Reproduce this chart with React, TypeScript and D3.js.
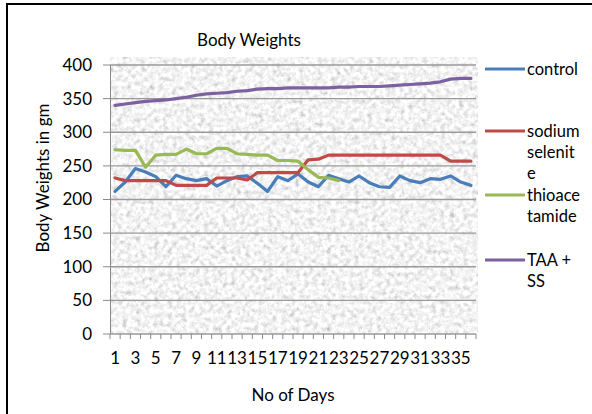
import React from 'react';
import {scaleBand,scaleLinear,line,range} from 'd3';

const days=range(1,37);
const control=[212,226,246,241,234,219,236,231,228,231,220,228,234,235,224,212,234,228,238,226,219,236,231,226,235,225,219,218,235,228,225,231,230,235,226,221];
const sodium=[232,228,228,228,228,228,221,221,221,221,232,232,232,229,240,240,240,240,240,259,260,266,266,266,266,266,266,266,266,266,266,266,266,257,257,257];
const thioacetamide=[274,273,273,248,266,267,267,275,268,268,276,276,268,267,266,266,258,258,257,244,233,232,228];
const taaSS=[340,342,344,346,347,348,350,352,355,357,358,359,361,362,364,365,365,366,366,366,366,366,367,367,368,368,368,369,370,371,372,373,375,379,380,380];
const yTicks=[0,50,100,150,200,250,300,350,400];

const series=[
  {name:['control'],values:control,color:'#4A7EBB'},
  {name:['sodium','selenit','e'],values:sodium,color:'#BE4B48'},
  {name:['thioace','tamide'],values:thioacetamide,color:'#98B954'},
  {name:['TAA +','SS'],values:taaSS,color:'#7D60A0'},
];
const legendY=[69,131,195,260];

const font="Lato, 'Open Sans', sans-serif";

export default function App(){
  const width=592,height=414;
  const x=scaleBand<number>().domain(days).range([110,476]).padding(0);
  const y=scaleLinear().domain([0,400]).range([334,65]);
  const bw=x.bandwidth();
  const cx=(i:number)=>(x(days[i]) as number)+bw/2;
  const path=line<number>().x((d,i)=>cx(i)).y(d=>y(d));
  const tickXs=days.map(d=>x(d) as number).concat([476]);

  return (
    <div style={{position:'fixed',left:0,top:0}}>
      <svg width={width} height={height} style={{display:'block',background:'#fff'}}>
        <defs>
          <filter id="granite" x="0" y="0" width="100%" height="100%">
            <feTurbulence type="fractalNoise" baseFrequency="0.22" numOctaves="4" seed="7" result="n"/>
            <feColorMatrix in="n" type="matrix" values="0.45 0.45 0.45 0 0.22  0.45 0.45 0.45 0 0.22  0.45 0.45 0.45 0 0.22  0 0 0 0 1"/>
          </filter>
        </defs>
        <text x={19} y={-3} fontFamily={font} fontSize={17}>g</text>
        <rect x={7} y={4} width={620} height={440} fill="none" stroke="#000" strokeWidth={2}/>
        <rect x={110} y={57} width={368} height={277} filter="url(#granite)"/>
        <text x={249} y={46} textAnchor="middle" fontFamily={font} fontSize={17} fill="#000">Body Weights</text>
        {yTicks.map(t=>(
          <g key={t}>
            <line x1={110} x2={476} y1={y(t)} y2={y(t)} stroke="#9a9a9a" strokeWidth={1.3}/>
            <line x1={103} x2={110} y1={y(t)} y2={y(t)} stroke="#8a8a8a"/>
            <text x={92} y={y(t)} dy="0.35em" textAnchor="end" fontFamily={font} fontSize={17}>{t}</text>
          </g>
        ))}
        <line x1={110.5} x2={110.5} y1={65} y2={334} stroke="#8a8a8a"/>
        {tickXs.map((t,i)=>(
          <line key={i} x1={t} x2={t} y1={334} y2={339} stroke="#8a8a8a"/>
        ))}
        {days.filter(d=>d%2===1).map(d=>(
          <text key={d} x={(x(d) as number)+bw/2} y={364} textAnchor="middle" fontFamily={font} fontSize={17}>{d}</text>
        ))}
        <text x={293} y={401} textAnchor="middle" fontFamily={font} fontSize={17}>No of Days</text>
        <text transform="translate(49,178) rotate(-90)" textAnchor="middle" fontFamily={font} fontSize={17}>Body Weights in gm</text>
        {series.map(s=>(
          <path key={s.color} d={path(s.values) as string} fill="none" stroke={s.color} strokeWidth={3.2} strokeLinejoin="round" strokeLinecap="round"/>
        ))}
        {series.map((s,i)=>(
          <g key={'l'+i}>
            <line x1={485} x2={525} y1={legendY[i]} y2={legendY[i]} stroke={s.color} strokeWidth={3.2}/>
            {s.name.map((n,j)=>(
              <text key={j} x={527} y={legendY[i]+j*21} dy="0.35em" fontFamily={font} fontSize={16.5}>{n}</text>
            ))}
          </g>
        ))}
      </svg>
    </div>
  );
}
